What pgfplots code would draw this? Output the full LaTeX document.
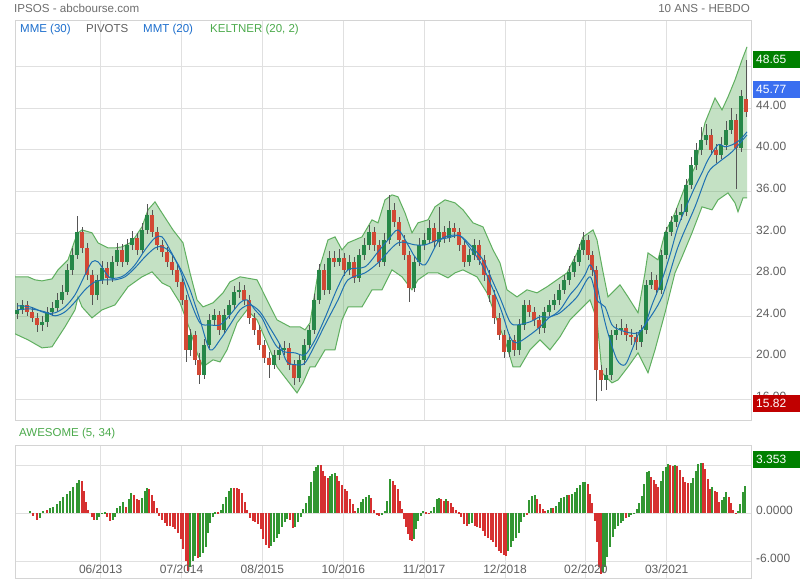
\documentclass[border=0pt]{standalone}
\usepackage{pgfplots}
\pgfplotsset{compat=1.18}
\usepackage{pgfplotstable}
\usepackage{fontspec}
\setmainfont{Liberation Sans}
\definecolor{gridc}{RGB}{224,224,224}
\definecolor{framec}{RGB}{212,212,212}
\definecolor{labc}{RGB}{95,95,95}
\definecolor{titc}{RGB}{110,110,110}
\definecolor{mablue}{RGB}{30,112,178}
\definecolor{legblue}{RGB}{28,110,205}
\definecolor{kgreen}{RGB}{76,170,76}
\definecolor{bandfill}{RGB}{46,150,46}
\definecolor{bandline}{RGB}{95,175,95}
\definecolor{cgreen}{RGB}{38,135,72}
\definecolor{cred}{RGB}{210,72,52}
\definecolor{wick}{RGB}{85,85,85}
\definecolor{aog}{RGB}{50,150,50}
\definecolor{aor}{RGB}{214,48,48}
\definecolor{boxg}{RGB}{0,128,0}
\definecolor{boxb}{RGB}{58,110,240}
\definecolor{boxr}{RGB}{192,0,0}

\pgfplotstableread{
x o h l c
17 24.20 25.30 23.70 24.61
22 24.61 25.60 24.20 25.09
27 25.09 25.50 24.00 24.42
32 24.42 24.90 23.40 23.84
37 23.84 24.30 22.50 23.17
42 23.17 24.00 22.60 23.46
47 23.46 24.90 23.00 24.42
52 24.42 25.40 24.00 24.80
57 24.80 26.20 24.40 25.57
62 25.57 27.00 25.20 26.34
67 26.34 29.00 26.00 28.46
72 28.46 30.60 28.00 29.90
77 29.90 33.60 29.50 32.11
82 32.11 32.60 30.10 30.57
87 30.57 31.00 27.50 27.98
92 27.98 28.40 25.10 26.05
97 26.05 28.00 25.60 27.50
102 27.50 29.30 27.10 28.65
107 28.65 29.20 27.00 27.69
112 27.69 29.80 27.30 29.23
117 29.23 31.00 28.80 30.38
122 30.38 30.90 28.70 29.23
127 29.23 31.40 28.90 30.86
132 30.86 32.20 30.40 31.54
137 31.54 32.00 29.90 30.38
142 30.38 33.00 30.00 32.30
147 32.30 34.80 31.90 33.75
152 33.75 34.20 31.60 32.11
157 32.11 32.60 30.40 30.86
162 30.86 31.30 29.70 30.19
167 30.19 30.70 28.70 29.23
172 29.23 29.80 28.00 28.46
177 28.46 29.00 26.80 27.30
182 27.30 27.80 25.10 25.57
186 25.57 26.00 19.60 20.77
190 20.77 22.80 20.20 22.21
195 22.21 22.60 19.30 19.80
199 19.80 20.50 17.50 18.36
204 18.36 21.80 18.00 21.25
209 21.25 24.20 20.90 23.65
214 23.65 24.70 23.20 24.13
219 24.13 24.50 22.20 22.69
224 22.69 24.70 22.30 24.13
229 24.13 25.60 23.70 25.09
234 25.09 26.90 24.70 26.34
239 26.34 27.30 25.80 26.54
244 26.54 27.00 25.10 25.57
249 25.57 26.00 23.30 23.84
254 23.84 24.30 22.20 22.69
259 22.69 23.20 20.80 21.25
264 21.25 21.70 19.50 20.00
269 20.00 20.60 18.10 19.32
274 19.32 20.80 18.90 20.29
279 20.29 21.40 19.80 20.77
284 20.77 21.60 20.30 20.96
289 20.96 21.40 18.80 19.32
294 19.32 19.80 17.40 18.07
299 18.07 20.30 17.70 19.80
304 19.80 21.80 19.30 21.25
309 21.25 23.20 20.80 22.69
314 22.69 26.10 22.30 25.57
319 25.57 29.00 25.20 28.46
324 28.46 29.00 26.00 26.54
329 26.54 30.30 26.10 29.61
334 29.61 30.30 28.70 29.23
339 29.23 30.50 28.80 29.61
344 29.61 30.10 27.90 28.46
349 28.46 29.90 28.00 29.23
354 29.23 29.70 27.20 27.69
359 27.69 30.50 27.30 29.90
364 29.90 31.50 29.40 30.86
369 30.86 32.80 30.40 32.11
374 32.11 32.60 30.30 30.86
379 30.86 31.30 28.70 29.23
384 29.23 32.00 28.80 31.34
389 31.34 35.70 30.90 34.23
394 34.23 34.90 32.60 33.07
399 33.07 33.50 30.80 31.34
404 31.34 31.80 29.40 29.90
409 29.90 30.30 25.40 26.73
414 26.73 29.80 26.30 29.23
419 29.23 31.50 28.80 30.86
424 30.86 32.00 30.40 31.34
429 31.34 33.30 30.90 32.50
434 32.50 33.00 30.60 31.15
439 31.15 34.50 30.70 32.11
444 32.11 32.70 31.00 31.54
449 31.54 33.20 31.10 32.50
454 32.50 33.00 31.50 32.11
459 32.11 32.50 30.30 30.86
464 30.86 31.30 28.70 29.23
469 29.23 30.50 28.80 29.90
474 29.90 31.40 29.40 30.86
479 30.86 31.30 28.90 29.42
484 29.42 29.90 27.40 27.98
489 27.98 28.40 25.40 26.05
494 26.05 26.50 23.30 23.84
499 23.84 24.30 21.70 22.21
504 22.21 22.70 20.00 20.57
509 20.57 22.30 20.10 21.73
514 21.73 22.20 20.20 20.77
519 20.77 23.70 20.30 23.17
524 23.17 25.60 22.70 25.09
529 25.09 25.60 23.90 24.42
534 24.42 24.90 23.10 23.65
539 23.65 24.10 22.30 22.88
544 22.88 24.90 22.40 24.42
549 24.42 25.60 24.00 25.09
554 25.09 26.10 24.60 25.57
559 25.57 27.10 25.10 26.54
564 26.54 28.00 26.10 27.50
569 27.50 28.80 27.00 28.27
574 28.27 29.80 27.80 29.23
579 29.23 30.90 28.80 30.38
583 30.38 32.10 29.90 31.34
588 31.34 31.80 29.40 29.90
592 29.90 30.30 27.90 28.46
596 28.46 28.80 15.82 18.84
601 18.84 19.30 16.80 17.88
606 17.88 19.00 16.90 18.36
611 18.36 22.70 17.90 22.21
616 22.21 23.30 21.70 22.69
621 22.69 23.70 22.20 22.88
626 22.88 23.30 21.60 22.21
631 22.21 22.80 21.20 22.02
636 22.02 22.50 20.80 21.54
641 21.54 23.20 21.00 22.69
646 22.69 27.50 22.30 27.02
651 27.02 28.30 26.60 27.50
656 27.50 28.00 26.00 26.54
661 26.54 30.40 26.10 29.90
666 29.90 32.60 29.50 32.11
671 32.11 33.60 31.70 33.07
676 33.07 34.40 32.60 33.75
681 33.75 34.80 33.30 34.04
686 34.04 37.20 33.60 36.63
691 36.63 39.30 36.20 38.55
696 38.55 40.70 38.10 40.00
701 40.00 42.20 39.50 40.96
706 40.96 42.50 40.50 41.44
711 41.44 42.00 39.50 40.00
716 40.00 40.60 38.70 39.52
721 39.52 41.20 39.10 40.48
726 40.48 42.80 40.00 41.92
731 41.92 44.00 41.50 42.88
736 42.88 43.40 36.20 40.19
741 40.19 45.80 39.80 45.20
746 44.90 48.65 43.20 43.60
}\candles

\pgfplotstableread{
x v
15 27.79
28 27.79
35 27.50
42 27.40
52 27.59
58 28.46
68 29.42
75 31.34
78 32.02
82 32.30
92 32.02
98 31.06
108 30.57
115 30.57
122 30.67
132 31.15
142 32.59
148 34.23
155 35.00
160 34.23
173 32.30
183 31.06
190 28.17
197 25.57
203 24.90
213 25.29
223 26.25
230 27.31
240 27.79
257 27.50
267 25.57
277 23.65
290 22.98
300 22.98
305 22.69
310 23.36
318 28.17
328 31.34
335 31.63
342 30.38
348 31.06
362 31.63
372 33.27
378 32.98
385 35.19
392 35.67
398 35.48
405 33.94
412 32.02
418 32.98
428 33.27
435 34.52
445 35.19
455 34.90
463 34.23
473 32.98
483 32.59
493 30.38
500 29.13
507 26.54
517 25.86
527 26.54
537 26.25
547 26.83
557 27.50
567 28.17
577 30.09
583 31.63
593 32.30
597 31.34
602 28.75
608 25.86
615 26.54
620 27.02
628 25.86
638 24.33
645 28.17
648 30.09
658 29.42
665 32.02
675 33.94
685 36.44
695 38.36
705 42.59
715 44.98
722 43.84
728 45.09
735 46.73
742 48.65
747 49.90
}\kup

\pgfplotstableread{
x v
15 22.31
28 21.73
42 20.96
52 21.06
65 22.98
75 24.61
78 25.86
82 24.90
92 23.84
102 24.61
115 25.09
128 26.83
142 27.79
152 28.27
162 27.21
170 26.83
180 25.29
190 22.69
197 20.48
203 19.13
213 19.81
220 19.61
227 20.77
237 23.36
247 24.61
257 23.65
267 21.44
277 19.13
287 17.88
297 16.63
303 17.60
310 19.13
315 19.13
325 20.77
335 20.77
342 23.65
348 24.90
362 24.90
372 26.54
382 26.54
392 28.46
402 27.79
412 26.54
418 27.50
428 28.17
438 28.17
448 27.69
455 28.17
463 28.46
477 27.79
487 26.25
497 23.65
507 21.06
513 19.13
520 19.13
530 20.77
540 21.73
550 20.77
560 22.02
570 23.65
583 24.90
590 25.57
597 23.65
602 18.56
612 17.60
618 17.88
628 19.13
638 20.48
648 18.56
655 20.77
665 24.33
675 28.17
682 29.71
692 32.02
702 34.52
712 34.23
718 35.19
728 35.86
735 34.90
738 34.04
743 35.38
747 35.38
}\klo

% band outline: upper edge left to right, then lower edge right to left
\pgfplotstableread{
x v
15 27.79
28 27.79
35 27.50
42 27.40
52 27.59
58 28.46
68 29.42
75 31.34
78 32.02
82 32.30
92 32.02
98 31.06
108 30.57
115 30.57
122 30.67
132 31.15
142 32.59
148 34.23
155 35.00
160 34.23
173 32.30
183 31.06
190 28.17
197 25.57
203 24.90
213 25.29
223 26.25
230 27.31
240 27.79
257 27.50
267 25.57
277 23.65
290 22.98
300 22.98
305 22.69
310 23.36
318 28.17
328 31.34
335 31.63
342 30.38
348 31.06
362 31.63
372 33.27
378 32.98
385 35.19
392 35.67
398 35.48
405 33.94
412 32.02
418 32.98
428 33.27
435 34.52
445 35.19
455 34.90
463 34.23
473 32.98
483 32.59
493 30.38
500 29.13
507 26.54
517 25.86
527 26.54
537 26.25
547 26.83
557 27.50
567 28.17
577 30.09
583 31.63
593 32.30
597 31.34
602 28.75
608 25.86
615 26.54
620 27.02
628 25.86
638 24.33
645 28.17
648 30.09
658 29.42
665 32.02
675 33.94
685 36.44
695 38.36
705 42.59
715 44.98
722 43.84
728 45.09
735 46.73
742 48.65
747 49.90
747 35.38
743 35.38
738 34.04
735 34.90
728 35.86
718 35.19
712 34.23
702 34.52
692 32.02
682 29.71
675 28.17
665 24.33
655 20.77
648 18.56
638 20.48
628 19.13
618 17.88
612 17.60
602 18.56
597 23.65
590 25.57
583 24.90
570 23.65
560 22.02
550 20.77
540 21.73
530 20.77
520 19.13
513 19.13
507 21.06
497 23.65
487 26.25
477 27.79
463 28.46
455 28.17
448 27.69
438 28.17
428 28.17
418 27.50
412 26.54
402 27.79
392 28.46
382 26.54
372 26.54
362 24.90
348 24.90
342 23.65
335 20.77
325 20.77
315 19.13
310 19.13
303 17.60
297 16.63
287 17.88
277 19.13
267 21.44
257 23.65
247 24.61
237 23.36
227 20.77
220 19.61
213 19.81
203 19.13
197 20.48
190 22.69
180 25.29
170 26.83
162 27.21
152 28.27
142 27.79
128 26.83
115 25.09
102 24.61
92 23.84
82 24.90
78 25.86
75 24.61
65 22.98
52 21.06
42 20.96
28 21.73
15 22.31
}\kband

\pgfplotstableread{
x v
17 25.00
30 24.90
45 24.33
55 24.33
65 24.90
75 26.06
85 27.98
92 29.23
98 29.23
105 28.27
110 27.69
118 27.69
125 27.98
135 28.94
145 30.38
155 31.54
162 31.63
170 30.38
180 28.46
190 25.57
200 23.36
210 23.17
220 23.17
230 24.13
240 25.29
247 25.57
255 24.61
262 23.84
270 22.21
277 21.06
285 20.57
295 20.48
305 20.29
315 21.73
325 23.84
338 26.83
348 28.46
365 28.75
378 30.19
388 31.34
398 32.30
408 30.86
415 29.71
425 28.94
438 31.15
448 31.73
460 31.73
470 30.86
483 29.42
492 27.50
500 25.77
510 23.46
517 23.17
530 23.46
540 23.94
550 23.94
560 24.61
570 26.06
577 26.83
585 27.98
590 28.94
595 27.98
600 25.57
607 22.69
617 19.81
625 19.33
632 20.77
638 22.21
645 23.17
652 25.09
662 27.50
670 29.90
678 32.59
687 34.71
695 36.44
702 37.79
708 39.04
718 40.48
725 40.29
732 40.48
740 40.96
747 41.73
}\mafast

\pgfplotstableread{
x v
17 24.61
30 24.71
45 24.42
55 24.04
65 24.42
75 25.38
85 26.54
95 27.31
105 27.50
115 27.50
125 27.79
135 28.65
145 29.71
155 30.57
162 30.67
170 30.19
180 28.65
190 26.54
200 23.65
210 20.77
220 21.73
230 23.17
240 24.61
250 25.09
260 24.42
270 22.88
280 21.25
287 19.61
297 19.33
305 19.52
315 21.25
325 23.17
338 25.57
348 27.50
365 28.17
378 29.13
398 31.06
415 30.86
425 30.86
438 31.34
448 31.54
460 31.73
470 30.57
483 28.75
500 24.90
510 22.02
517 21.44
530 22.21
540 22.98
550 23.94
560 24.33
577 25.86
590 27.79
597 25.57
605 24.90
612 23.17
620 22.69
630 22.40
638 22.40
645 23.17
662 25.86
678 30.67
695 34.52
708 37.79
718 38.75
732 39.81
747 41.44
}\maslow

\pgfplotstableread{
x v g
30.0 0.25 1
33.3 -0.33 0
36.7 -0.88 0
40.0 -0.63 1
43.3 0.20 1
46.7 0.38 0
50.0 0.63 1
53.3 0.79 1
56.7 1.13 1
60.0 1.54 1
63.3 2.04 1
66.7 2.38 1
70.0 2.79 1
73.3 3.21 1
76.7 3.71 1
79.0 4.13 1
81.7 3.96 0
84.0 2.71 0
86.0 1.33 0
88.3 0.38 0
91.7 -0.54 0
94.0 -0.83 0
96.7 -0.83 1
99.0 -0.54 1
101.7 0.04 1
105.0 0.13 1
107.3 -0.54 0
110.0 -0.96 0
112.7 -0.83 1
115.0 -0.46 1
117.3 0.63 1
120.0 0.92 1
123.3 1.33 1
126.0 0.79 0
128.7 1.75 1
131.3 2.46 1
134.0 2.29 0
136.7 1.75 0
139.3 1.63 0
142.0 1.88 1
144.7 2.79 1
147.0 3.13 1
149.3 2.96 0
151.7 2.29 0
154.0 1.54 0
156.7 0.63 0
159.3 -0.33 0
162.0 -0.88 0
164.7 -1.29 0
167.3 -1.58 0
170.0 -1.67 0
172.7 -1.71 0
175.3 -2.00 0
178.0 -2.54 0
180.7 -3.25 0
183.3 -4.50 0
185.7 -5.96 0
188.0 -7.29 0
190.3 -6.79 1
192.7 -6.04 1
195.3 -5.33 1
198.0 -5.63 0
200.3 -5.54 1
203.0 -5.04 1
205.7 -4.21 1
208.0 -2.54 1
210.3 -1.29 1
212.7 -0.46 1
215.3 0.13 1
218.0 0.13 0
220.7 0.38 1
223.3 1.13 1
226.0 1.96 1
228.7 2.79 1
231.3 3.13 1
234.0 3.13 0
236.7 3.08 0
239.3 2.96 0
242.0 2.54 0
244.7 1.33 0
247.0 0.38 0
250.0 -0.63 0
252.7 -0.96 0
255.3 -1.17 0
258.0 -1.38 0
260.7 -2.00 0
263.3 -3.25 0
266.0 -3.96 0
268.7 -4.42 0
271.3 -4.17 1
274.0 -3.67 1
276.7 -3.13 1
279.3 -2.63 1
282.0 -1.79 1
284.7 -1.17 1
287.3 -0.75 1
290.0 -0.88 0
292.7 -1.92 0
295.3 -1.79 1
298.0 -1.17 1
300.7 -0.54 1
303.3 0.50 1
306.0 1.21 1
308.7 2.17 1
311.3 3.83 1
313.7 5.29 1
316.0 5.79 1
318.3 6.04 1
320.7 5.96 0
323.0 5.29 0
325.3 4.67 0
327.7 4.38 0
330.0 4.67 1
332.3 4.88 1
334.7 4.96 1
337.0 4.67 0
339.3 4.04 0
342.0 3.54 0
344.7 3.00 0
347.3 2.71 0
350.0 1.75 0
352.7 1.13 0
355.3 0.29 0
358.0 0.63 1
360.7 1.33 1
363.3 1.75 1
366.0 2.04 1
368.7 2.29 1
371.3 1.88 0
374.0 0.38 0
376.7 -0.21 0
379.3 -0.33 0
382.0 -0.21 1
384.7 0.29 1
387.3 1.54 1
390.0 4.25 1
392.7 4.04 0
395.3 3.54 0
398.0 3.00 0
400.0 1.46 0
402.0 0.50 0
404.0 -0.75 0
406.0 -1.71 0
408.0 -2.63 0
410.0 -3.38 0
412.0 -3.54 0
414.0 -3.25 1
416.0 -2.00 1
418.3 -0.96 1
420.7 -0.33 1
423.3 0.21 1
426.0 0.13 0
428.7 -0.08 0
431.3 0.29 1
434.0 0.79 1
436.7 1.71 1
439.0 1.83 1
441.3 1.75 0
443.7 1.54 0
446.0 1.79 1
448.3 1.54 0
450.7 1.29 0
453.3 0.79 0
456.0 0.42 0
458.7 0.08 0
461.3 -0.54 0
464.0 -1.38 0
466.7 -1.58 0
469.3 -1.38 1
472.0 -1.21 1
474.7 -1.58 0
477.3 -1.71 0
480.0 -1.88 0
482.7 -2.21 0
485.3 -2.83 0
488.0 -3.13 0
490.7 -3.38 0
493.3 -3.67 0
496.0 -4.21 0
498.7 -4.71 0
501.3 -5.04 0
503.7 -5.25 0
506.0 -5.42 0
508.3 -4.79 1
510.7 -4.21 1
513.3 -3.54 1
516.0 -3.13 1
518.7 -2.54 1
521.3 -1.17 1
524.0 -0.46 1
526.7 -0.25 0
529.3 1.63 1
532.0 2.13 1
534.7 2.29 1
537.3 1.75 0
540.0 1.13 0
542.7 0.50 0
545.3 0.29 0
548.0 0.38 1
550.7 0.63 1
553.3 0.58 0
556.0 0.92 1
558.7 1.33 1
561.3 1.83 1
564.0 2.04 1
566.7 2.29 1
569.3 2.29 0
572.0 2.38 1
574.7 2.63 1
577.3 3.08 1
580.0 3.54 1
582.7 3.88 1
585.3 3.92 1
587.7 3.63 0
590.0 2.38 0
592.3 1.21 0
594.7 -0.96 0
597.0 -3.67 0
599.0 -6.79 0
601.0 -7.63 0
603.0 -7.42 1
605.0 -6.79 1
607.3 -5.54 1
610.0 -4.21 1
612.7 -3.04 1
615.3 -2.00 1
618.0 -1.58 1
620.7 -1.29 1
623.3 -0.96 1
626.0 -0.67 0
628.7 -0.54 1
631.3 -0.25 1
634.0 0.04 1
636.7 0.50 1
639.3 1.21 1
642.0 2.17 1
644.3 3.63 1
646.7 5.08 1
649.0 5.21 1
651.3 4.46 0
653.7 4.13 0
656.0 3.63 0
658.3 3.21 0
660.7 4.04 1
663.3 5.29 1
665.7 5.79 1
668.0 6.13 1
670.3 6.04 0
672.7 5.88 0
675.0 5.96 1
677.3 5.90 0
680.0 5.38 0
682.7 4.54 0
685.3 3.83 0
688.0 3.75 0
690.7 3.79 1
693.3 4.38 1
696.0 5.29 1
698.3 6.13 1
700.7 6.29 1
703.0 6.21 0
705.3 5.50 0
707.7 4.25 0
710.0 3.00 0
712.3 3.21 1
714.7 2.71 0
717.0 2.58 0
719.3 1.33 0
721.7 1.63 1
724.0 1.96 1
726.3 2.58 1
728.7 2.04 0
731.0 1.21 0
733.3 0.38 0
735.7 -0.08 0
738.0 0.21 1
740.3 1.13 1
742.7 2.58 1
745.0 3.38 1
}\ao

\pgfplotsset{
  chartbase/.style={
    scale only axis, width=736pt,
    xmin=15, xmax=751,
    axis line style={draw=framec, line width=1pt},
    tick style={draw=none},
    xmajorgrids, ymajorgrids,
    grid style={draw=gridc, line width=1pt},
    xtick={100.7,181.6,262.4,343.3,424.1,505.0,585.9,666.7},
    xticklabels={},
    yticklabel pos=right,
    yticklabel style={anchor=west, inner sep=0pt, xshift=5pt, yshift=3pt, text=labc, font=\fontsize{12}{14}\selectfont},
    xticklabel style={anchor=north, inner sep=0pt, yshift=-5.5pt, text=labc, font=\fontsize{12}{14}\selectfont},
  }
}

\begin{document}
\begin{tikzpicture}[x=1pt,y=1pt]
\fill[white] (0,0) rectangle (800,580);

\begin{axis}[chartbase, at={(15,153)}, anchor=south west, height=400pt,
  ymin=13.94, ymax=52.40,
  ytick={16,20,24,28,32,36,40,44,48},
  yticklabels={16.00,20.00,24.00,28.00,32.00,36.00,40.00,44.00,48.00}]
  % Keltner band
  \addplot[fill=bandfill, fill opacity=0.28, draw=none, mark=none] table[x=x,y=v] {\kband};
  \addplot[draw=bandline, line width=1pt, mark=none] table[x=x,y=v] {\kup};
  \addplot[draw=bandline, line width=1pt, mark=none] table[x=x,y=v] {\klo};
  % wicks
  \addplot[mark=none, draw=none,
    error bars/.cd, y dir=both, y explicit, error mark=none,
    error bar style={draw=wick, line width=1pt}]
    table[x=x, y expr={(\thisrow{h}+\thisrow{l})/2}, y error expr={(\thisrow{h}-\thisrow{l})/2}] {\candles};
  % falling bodies
  \addplot[mark=none, draw=none,
    error bars/.cd, y dir=both, y explicit, error mark=none,
    error bar style={draw=cred, line width=4pt}]
    table[x=x, y expr={(\thisrow{o}+\thisrow{c})/2}, y error expr={max(\thisrow{o}-\thisrow{c},0)/2}] {\candles};
  % rising bodies
  \addplot[mark=none, draw=none,
    error bars/.cd, y dir=both, y explicit, error mark=none,
    error bar style={draw=cgreen, line width=4pt}]
    table[x=x, y expr={(\thisrow{o}+\thisrow{c})/2}, y error expr={max(\thisrow{c}-\thisrow{o},0)/2}] {\candles};
  % moving averages
  \addplot[draw=mablue, line width=1pt, mark=none, smooth] table[x=x,y=v] {\mafast};
  \addplot[draw=mablue, line width=1pt, mark=none, smooth] table[x=x,y=v] {\maslow};
\end{axis}

\begin{axis}[chartbase, at={(15,16)}, anchor=south west, height=133pt,
  ymin=-8.21, ymax=8.41,
  ytick={-6,0,6},
  yticklabels={-6.000,0.0000,6.000}]
  % histogram bars drawn from zero: centre v/2, half-length |v|/2
  \addplot[mark=none, draw=none,
    error bars/.cd, y dir=both, y explicit, error mark=none,
    error bar style={draw=aog, line width=1.8pt}]
    table[x=x, y expr={\thisrow{v}*\thisrow{g}/2}, y error expr={abs(\thisrow{v})*\thisrow{g}/2}] {\ao};
  \addplot[mark=none, draw=none,
    error bars/.cd, y dir=both, y explicit, error mark=none,
    error bar style={draw=aor, line width=1.8pt}]
    table[x=x, y expr={\thisrow{v}*(1-\thisrow{g})/2}, y error expr={abs(\thisrow{v})*(1-\thisrow{g})/2}] {\ao};
\end{axis}

% date labels under the lower panel
\begin{scope}[every node/.style={anchor=base, inner sep=0pt, text=labc, font=\fontsize{12}{14}\selectfont}]
\node at (100.7,6.7) {06/2013};
\node at (181.6,6.7) {07/2014};
\node at (262.4,6.7) {08/2015};
\node at (343.3,6.7) {10/2016};
\node at (424.1,6.7) {11/2017};
\node at (505.0,6.7) {12/2018};
\node at (585.9,6.7) {02/2020};
\node at (666.7,6.7) {03/2021};
\end{scope}

% titles and legend
\node[anchor=base west, inner sep=0pt, text=titc, font=\fontsize{11.6}{13}\selectfont] at (14,567) {IPSOS - abcbourse.com};
\node[anchor=base east, inner sep=0pt, text=titc, font=\fontsize{11.6}{13}\selectfont] at (750,567) {10 ANS - HEBDO};
\begin{scope}[every node/.style={anchor=base west, inner sep=0pt, font=\fontsize{11.5}{13}\selectfont}]
\node[text=legblue] at (20,547) {MME (30)};
\node[text=labc] at (86,547) {PIVOTS};
\node[text=legblue] at (143,547) {MMT (20)};
\node[text=kgreen] at (210,547) {KELTNER (20, 2)};
\node[text=kgreen] at (19,143) {AWESOME (5, 34)};
\end{scope}

% value boxes
\begin{scope}[every node/.style={anchor=west, inner xsep=3pt, inner ysep=0pt, minimum width=47pt, minimum height=17pt, text width=41pt, align=left, text=white, font=\fontsize{12}{14}\selectfont}]
\node[fill=boxg] at (753,520.5) {48.65};
\node[fill=boxb] at (753,490.5) {45.77};
\node[fill=boxr] at (753,176.5) {15.82};
\node[fill=boxg] at (753,120.5) {3.353};
\end{scope}
\pgfresetboundingbox
\useasboundingbox (0,0) rectangle (800,580);
\end{tikzpicture}
\end{document}
